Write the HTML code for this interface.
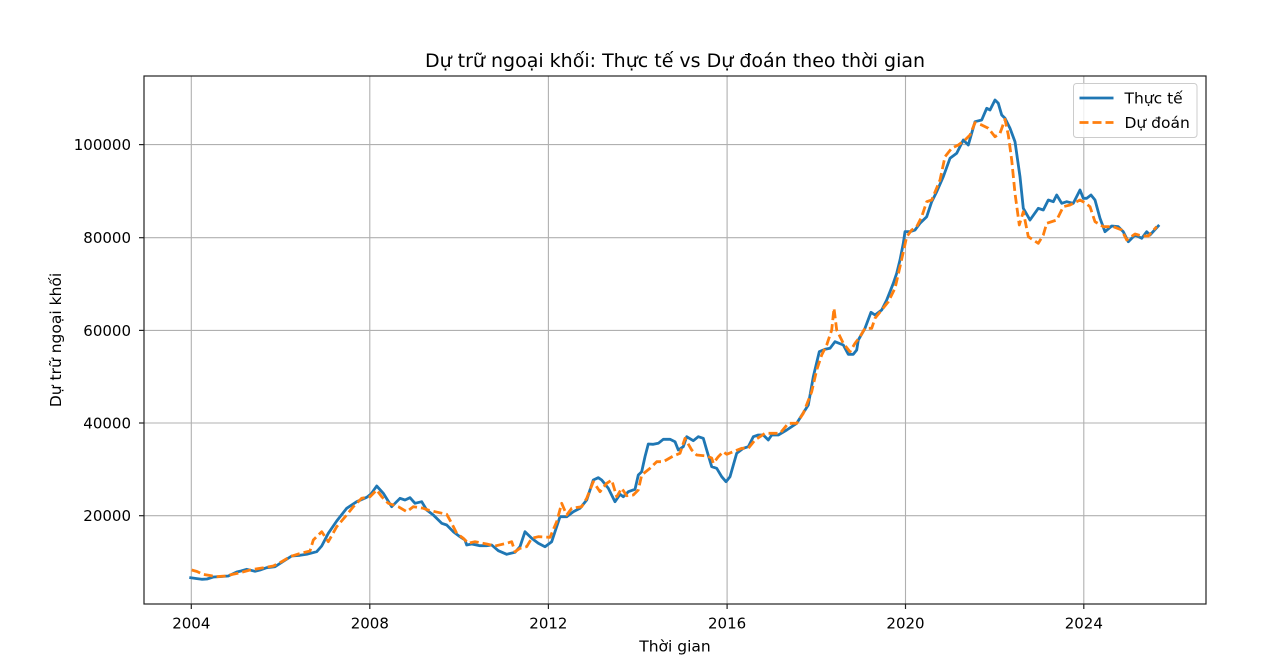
<!DOCTYPE html>
<html><head><meta charset="utf-8"><style>
html,body{margin:0;padding:0;background:#fff;}
svg{display:block;}
text{font-family:"DejaVu Sans","Liberation Sans",sans-serif;fill:#000;}
</style></head><body>
<svg width="1280" height="668" viewBox="0 0 1280 668" xmlns="http://www.w3.org/2000/svg">
<rect width="1280" height="668" fill="#fff"/>
<!-- grid -->
<g stroke="#b0b0b0" stroke-width="1.1">
<line x1="191.3" y1="76" x2="191.3" y2="604"/>
<line x1="369.8" y1="76" x2="369.8" y2="604"/>
<line x1="548.4" y1="76" x2="548.4" y2="604"/>
<line x1="727.1" y1="76" x2="727.1" y2="604"/>
<line x1="905.5" y1="76" x2="905.5" y2="604"/>
<line x1="1083.8" y1="76" x2="1083.8" y2="604"/>
<line x1="144" y1="515.7" x2="1206" y2="515.7"/>
<line x1="144" y1="423" x2="1206" y2="423"/>
<line x1="144" y1="330.4" x2="1206" y2="330.4"/>
<line x1="144" y1="237.7" x2="1206" y2="237.7"/>
<line x1="144" y1="144.6" x2="1206" y2="144.6"/>
</g>
<!-- series -->
<polyline fill="none" stroke="#1f77b4" stroke-width="2.8" stroke-linejoin="round" stroke-linecap="square" points="
190.7,577.7 196,578.5 201.7,579.3 207,579 213.3,577 220,576.6 228.3,576 236.7,572 241,571 246.7,569.3 255,571.3 260,570 266.7,567.7 275,566.7 283.3,561.3 291.7,556 300,555.3 306.7,554.3 316.7,551.7 321.7,546 328.3,533.3 336.7,521 346.7,508.3 356.7,501.7 366.7,497.3 371,494 376.7,486 383.3,493.3 391.7,506.7 400,498.3 405,500 410,497.7 415,503.3 421.7,501.7 426.7,510 433.3,515 441.7,523.3 446.7,525 453.3,531.7 460,536.7 465,540 466.7,545 471.7,544 480,545.7 486.7,545.7 491.7,545 498.3,550.7 506.7,554.3 515,552.3 520,546.7 525,531.7 531.7,538.3 538.3,543.3 545,546.7 551.7,541.7 555,531.7 560,516.7 566.7,516.7 573.3,511.7 580,508.3 586.7,500 593.3,480 598.3,477.7 601.7,480 608.3,488.3 615,501.7 620,494.3 623.3,496.7 628.3,491.7 635,489.3 638.3,475 641.7,471.7 645,456.7 648.3,444 653.3,444.3 658.3,443.3 663.3,439.3 670,439.3 675,441.7 678.3,450 683.3,446.7 686.7,436.7 693.3,440.7 698.3,436.7 703.3,438.3 706.7,450 711.7,466.7 716.7,468.3 721.7,476.7 726,481.7 730,476.7 736.7,453.3 743.3,448.3 748.3,446.7 753.3,436.7 758.3,435 763.3,435 768.3,440 771.7,435 778.3,435 786.7,430 796.7,423.3 808.3,405 813.3,376.7 819.3,351.7 825,349.3 830,348.3 835,341.7 843.3,345 848.3,354.3 853.3,354.3 856.7,350 858.3,340 865,328.3 871,312.3 875,315 881.7,310 886.7,300 893.3,283.3 896.7,273.3 900,260 903.3,243.3 905,231.7 910,231.7 915,230 920,223.3 926.7,216.7 931.7,201.7 936.7,191.7 943.3,176.7 950,158.3 956.7,153.3 963.3,140 968.3,145 975,121.7 981.7,120 986.7,108.3 990,110 995,100 998.3,103.3 1001.7,115 1005,118.3 1010,128.3 1015,141.7 1020,176.7 1023.3,208.3 1030,220 1038.3,208.3 1043.3,210 1048.3,200 1053.3,201.7 1056.7,195 1061.7,203.3 1066.7,201.7 1073.3,203.3 1080,190 1083.3,198.3 1086.7,198.3 1091,195 1095,200 1100,218.3 1105,231.7 1111.7,226 1118.3,226.7 1123.3,231.7 1128.3,241.7 1135,235 1141.7,238.3 1146.7,231.7 1150,235 1158.3,226"/>
<polyline fill="none" stroke="#ff7f0e" stroke-width="2.8" stroke-dasharray="9,4" stroke-linejoin="round" points="
191.7,570 197,571.5 203,574.3 210,575.5 216.7,576.7 225,576 233,574.3 241,572.5 250,570 262,568 273.3,566 282,561.5 290,556.7 300,553.5 310,551 313.3,540 321.7,531.7 328.3,541.7 336.7,526.7 346.7,515 353.3,506.7 361.7,498.3 370,496.7 376.7,490 382,497 388.3,503.3 398.3,506.7 406.7,511.7 413.3,506.7 423.3,508.3 428,510 435,511.7 446.7,514.3 451.7,523.3 456.7,533.3 463.3,538.3 468.3,543.3 475,541.7 486.7,544 495,546 506.7,543.3 511.7,541.7 515,551.7 520,548.3 526.7,546.7 531.7,538.3 538.3,536.7 550,537.3 556.7,521.7 561.7,503.3 566.7,515 571.7,508.3 581.7,506.7 586.7,498.3 593.3,481.7 600,491.7 606.7,483.3 611.7,480 616.7,496.7 621.7,488.3 626.7,495.7 633.3,495 638.3,490 641.7,475 650,468.3 656.7,461.7 663.3,461.7 673.3,456 680,453.3 685,438.3 691.7,450 696.7,455 706.7,456 711.7,458 713.3,463.3 718.3,456.7 723.3,451.7 726.7,454.3 733.3,451.7 741.7,448.3 748.3,448.3 755,440 765,433.3 771.7,433.3 780,433.3 788.3,423.3 796.7,423.3 803.3,413.3 811.7,391.7 816.7,370 821.7,355 826.7,345 831.7,330 834,308.3 836.7,330 843.3,343.3 850,351.7 855,343.3 860,336.7 865,328.3 871.7,328.3 875,318.3 881.7,310 888.3,301.7 895,288.3 900,266.7 906.7,236.7 911.7,230 916.7,226.7 921.7,216.7 926.7,201.7 931.7,200 940,180 945,156.7 951.7,148.3 958.3,145 965,140 970,135 975,122.7 981.7,125 988.3,128.3 995,136.7 1000,133.3 1005,119.3 1008.3,135 1011.7,160 1015,193.3 1019.3,225 1023.3,211.7 1028.3,236.7 1038.3,243.3 1043.3,235 1046.7,223.3 1056.7,220 1063.3,206.7 1070,205 1080,200 1085,202.7 1090,206.7 1095,221.7 1103.3,226.7 1113.3,226.7 1121.7,230 1126.7,240 1135,234 1141.7,236 1148.3,236 1156.7,226.7"/>
<!-- axes frame -->
<rect x="144" y="76" width="1062" height="528" fill="none" stroke="#222" stroke-width="1.2"/>
<!-- ticks -->
<g stroke="#222" stroke-width="1.2">
<line x1="191.3" y1="604" x2="191.3" y2="609"/>
<line x1="369.8" y1="604" x2="369.8" y2="609"/>
<line x1="548.4" y1="604" x2="548.4" y2="609"/>
<line x1="727.1" y1="604" x2="727.1" y2="609"/>
<line x1="905.5" y1="604" x2="905.5" y2="609"/>
<line x1="1083.8" y1="604" x2="1083.8" y2="609"/>
<line x1="139" y1="515.7" x2="144" y2="515.7"/>
<line x1="139" y1="423" x2="144" y2="423"/>
<line x1="139" y1="330.4" x2="144" y2="330.4"/>
<line x1="139" y1="237.7" x2="144" y2="237.7"/>
<line x1="139" y1="144.6" x2="144" y2="144.6"/>
</g>
<g font-size="15" text-anchor="middle">
<text x="191.3" y="628.5">2004</text>
<text x="369.8" y="628.5">2008</text>
<text x="548.4" y="628.5">2012</text>
<text x="727.1" y="628.5">2016</text>
<text x="905.5" y="628.5">2020</text>
<text x="1083.8" y="628.5">2024</text>
</g>
<g font-size="15" text-anchor="end">
<text x="131" y="521.2">20000</text>
<text x="131" y="428.5">40000</text>
<text x="131" y="335.9">60000</text>
<text x="131" y="243.2">80000</text>
<text x="131" y="150.1">100000</text>
</g>
<text x="675" y="651.5" font-size="15.5" text-anchor="middle">Thời gian</text>
<text transform="translate(61,340) rotate(-90)" font-size="15.5" text-anchor="middle">Dự trữ ngoại khối</text>
<text x="675" y="67" font-size="19" text-anchor="middle">Dự trữ ngoại khối: Thực tế vs Dự đoán theo thời gian</text>
<!-- legend -->
<rect x="1073.5" y="83.5" width="123.5" height="54" rx="3" ry="3" fill="#fff" fill-opacity="0.8" stroke="#cccccc" stroke-width="1"/>
<line x1="1079.5" y1="98" x2="1113.5" y2="98" stroke="#1f77b4" stroke-width="2.8"/>
<line x1="1079.5" y1="122.5" x2="1113.5" y2="122.5" stroke="#ff7f0e" stroke-width="2.8" stroke-dasharray="9,4"/>
<text x="1124.5" y="103.5" font-size="15.5">Thực tế</text>
<text x="1124.5" y="128" font-size="15.5">Dự đoán</text>
</svg>
</body></html>
